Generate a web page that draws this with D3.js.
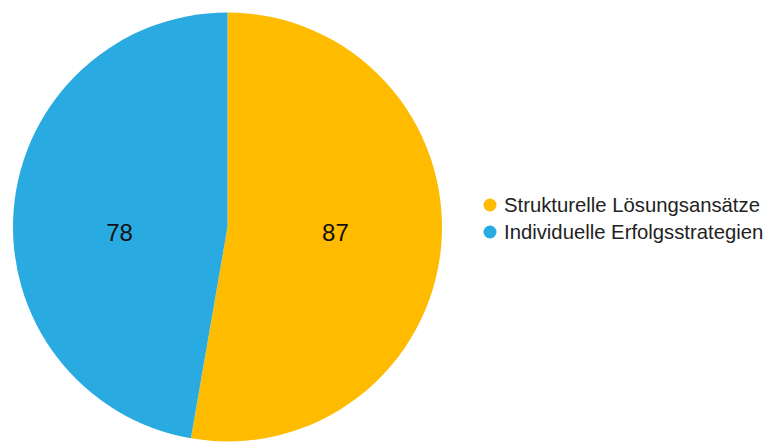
<!DOCTYPE html>
<html>
<head>
<meta charset="utf-8">
<script src="https://cdn.jsdelivr.net/npm/d3@7"></script>
<style>
  body { margin: 0; background: #fff; }
  text { font-family: "Liberation Sans", Arial, sans-serif; }
</style>
</head>
<body>
<script>
var categories = ["Strukturelle Lösungsansätze", "Individuelle Erfolgsstrategien"];
var values = [87, 78];
var colors = ["#FFBB00", "#29ABE2"];

var width = 766, height = 442;
var cx = 227.5, cy = 227, radius = 214.5;

var svg = d3.select("body")
  .append("svg")
  .attr("width", width)
  .attr("height", height);

var pie = d3.pie().sort(null).value(function(d) { return d; });
var arcs = pie(values);

var arc = d3.arc().innerRadius(0).outerRadius(radius);
var labelArc = d3.arc().innerRadius(radius * 0.505).outerRadius(radius * 0.505);

var g = svg.append("g").attr("transform", "translate(" + cx + "," + cy + ")");

g.selectAll("path") //slices
  .data(arcs)
  .enter().append("path")
  .attr("d", arc)
  .attr("fill", function(d, i) { return colors[i]; });

g.selectAll("text.val") //value labels, x from centroid, kept on the middle line
  .data(arcs)
  .enter().append("text")
  .attr("class", "val")
  .attr("x", function(d) { return labelArc.centroid(d)[0]; })
  .attr("y", 6)
  .attr("dy", "0.35em")
  .attr("text-anchor", "middle")
  .attr("font-size", "24px")
  .attr("fill", "#111")
  .text(function(d) { return d.value; });

// legend
var legend = svg.append("g").attr("transform", "translate(490,205)");
var item = legend.selectAll("g")
  .data(categories)
  .enter().append("g")
  .attr("transform", function(d, i) { return "translate(0," + i * 27 + ")"; });

item.append("circle")
  .attr("r", 6.5)
  .attr("fill", function(d, i) { return colors[i]; });

item.append("text")
  .attr("x", 14)
  .attr("y", 0)
  .attr("dy", "0.35em")
  .attr("font-size", "20.3px")
  .attr("fill", "#222")
  .text(function(d) { return d; });
</script>
</body>
</html>
